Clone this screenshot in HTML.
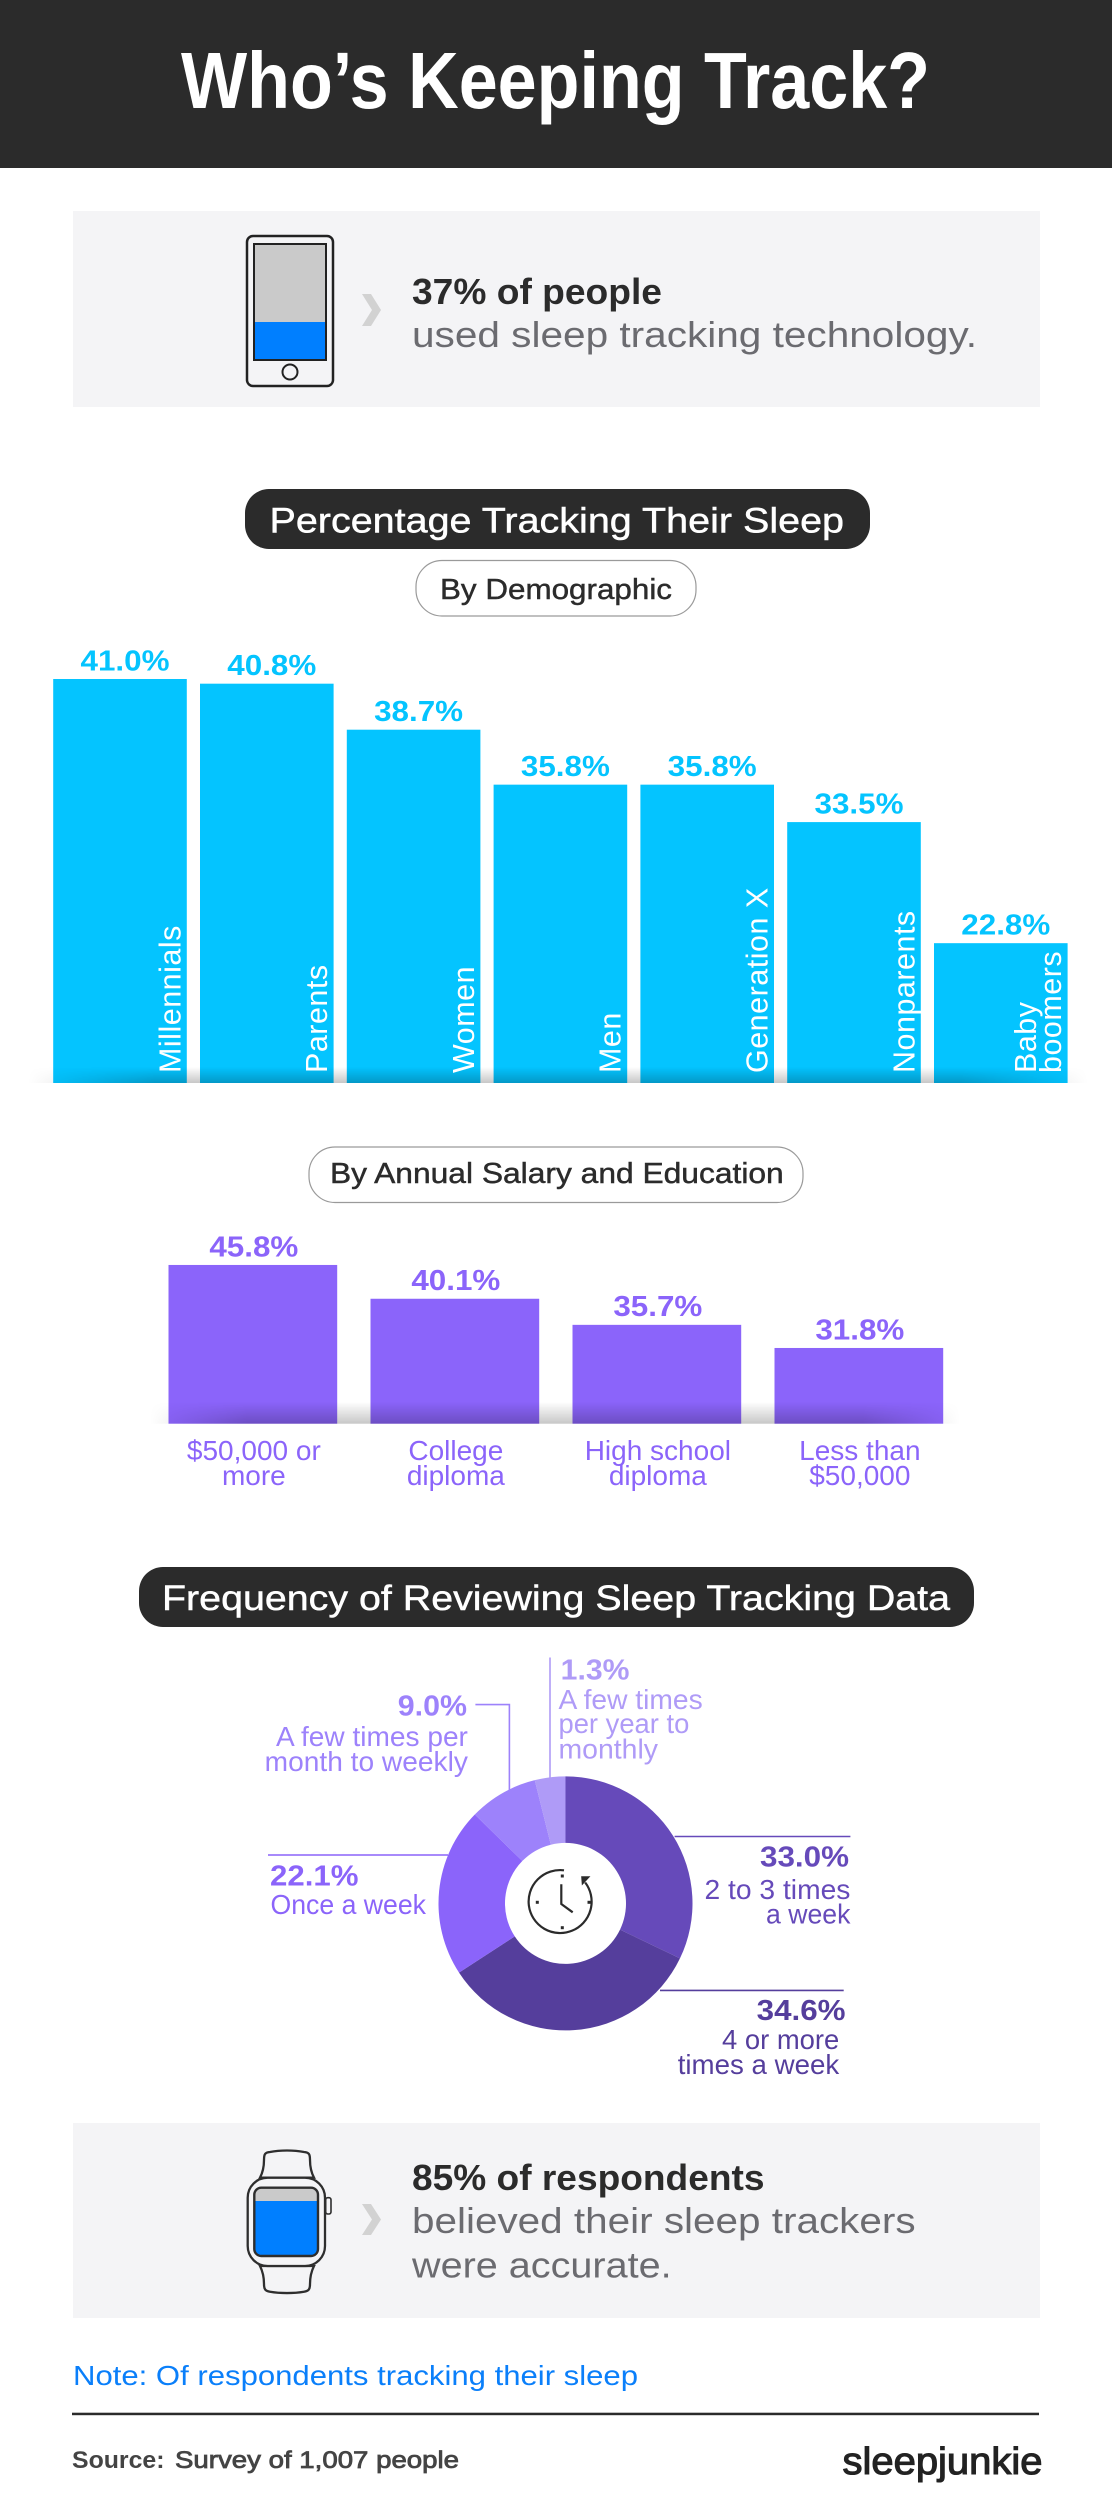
<!DOCTYPE html>
<html lang="en">
<head>
<meta charset="utf-8">
<title>Who's Keeping Track?</title>
<style>
html,body{margin:0;padding:0;background:#fff;}
svg{display:block;}
text{font-family:"Liberation Sans",Arial,sans-serif;}
.b{font-weight:700;}
.m{stroke-width:.45;paint-order:stroke;}
</style>
</head>
<body>
<svg id="page" xmlns="http://www.w3.org/2000/svg" width="1112" height="2514" viewBox="0 0 1112 2514">
<defs>
  <linearGradient id="vShade" x1="0" y1="0" x2="0" y2="1">
    <stop offset="0" stop-color="#000" stop-opacity="0"/>
    <stop offset="1" stop-color="#000" stop-opacity=".22"/>
  </linearGradient>
  <linearGradient id="hFade" x1="0" y1="0" x2="1" y2="0">
    <stop offset="0" stop-color="#fff" stop-opacity="0"/>
    <stop offset=".12" stop-color="#fff" stop-opacity="1"/>
    <stop offset=".88" stop-color="#fff" stop-opacity="1"/>
    <stop offset="1" stop-color="#fff" stop-opacity="0"/>
  </linearGradient>
  <mask id="demoFade" maskUnits="userSpaceOnUse" maskContentUnits="userSpaceOnUse" x="0" y="1040" width="1112" height="60">
    <rect x="28" y="1040" width="1060" height="60" fill="url(#hFade)"/>
  </mask>
  <mask id="salaryFade" maskUnits="userSpaceOnUse" maskContentUnits="userSpaceOnUse" x="0" y="1380" width="1112" height="60">
    <rect x="150" y="1380" width="810" height="60" fill="url(#hFade)"/>
  </mask>
  <clipPath id="watchScreen"><rect x="254.3" y="2187.7" width="63.7" height="68.3" rx="7"/></clipPath>
</defs>

<rect width="1112" height="2514" fill="#fff"/>
<rect width="1112" height="168" fill="#2b2b2b"/>
<text class="b" x="181" y="108" font-size="80" fill="#fff" textLength="749" lengthAdjust="spacingAndGlyphs">Who’s Keeping Track?</text>

<g>
  <rect x="73" y="211" width="967" height="196" fill="#f4f4f6"/>
  <g>
    <rect x="247" y="236" width="86" height="150" rx="6" fill="#f4f4f6" stroke="#222" stroke-width="2.5"/>
    <rect x="254" y="244" width="72" height="116" fill="#cacaca" stroke="#222" stroke-width="2"/>
    <rect x="255" y="322" width="70" height="37" fill="#007fff"/>
    <line x1="254" y1="360" x2="326" y2="360" stroke="#222" stroke-width="2"/>
    <circle cx="290" cy="372" r="7.5" fill="none" stroke="#222" stroke-width="2"/>
  </g>
  <polygon points="362,294 371,294 381,310 371,326 362,326 372,310" fill="#d2d2d2"/>
  <text class="b" x="412" y="304" font-size="36" fill="#2b2b2b" textLength="250" lengthAdjust="spacingAndGlyphs">37% of people</text>
  <text x="412" y="347" font-size="36" fill="#6b6b70" textLength="565" lengthAdjust="spacingAndGlyphs">used sleep tracking technology.</text>
</g>

<rect x="245" y="489" width="625" height="60" rx="24" fill="#2b2b2b"/>
<text class="m" stroke="#fff" x="269.5" y="532.5" font-size="35" fill="#fff" textLength="574.5" lengthAdjust="spacingAndGlyphs">Percentage Tracking Their Sleep</text>

<rect x="416" y="560.5" width="280" height="55.5" rx="26" fill="#fff" stroke="#9a9a9a" stroke-width="1.2"/>
<text class="m" stroke="#2b2b2b" x="440" y="599" font-size="29" fill="#2b2b2b" textLength="232" lengthAdjust="spacingAndGlyphs">By Demographic</text>

<g id="demoChart"></g>

<rect x="309" y="1147" width="494" height="55.5" rx="26" fill="#fff" stroke="#9a9a9a" stroke-width="1.2"/>
<text class="m" stroke="#2b2b2b" x="330" y="1183" font-size="29" fill="#2b2b2b" textLength="453.7" lengthAdjust="spacingAndGlyphs">By Annual Salary and Education</text>

<g id="salaryChart"></g>

<rect x="139" y="1567" width="835" height="60" rx="24" fill="#2b2b2b"/>
<text class="m" stroke="#fff" x="162" y="1610" font-size="35" fill="#fff" textLength="788" lengthAdjust="spacingAndGlyphs">Frequency of Reviewing Sleep Tracking Data</text>

<g id="donutChart"></g>

<g fill="none" stroke-width="1.6">
  <path d="M550 1657.5V1778" stroke="#af9bf7"/>
  <path d="M475.4 1704.6H509.4V1790" stroke="#9d82fb"/>
  <path d="M268 1855H448" stroke="#8b64fa"/>
  <path d="M674.6 1836.5H850.4" stroke="#664aba"/>
  <path d="M660 1990.4H843.7" stroke="#553e9c"/>
</g>

<g font-size="28">
  <text id="freq-val-4" class="b" x="560.7" y="1679.5" font-size="29" fill="#af9bf7" textLength="68.8" lengthAdjust="spacingAndGlyphs">1.3%</text>
  <text x="558.5" y="1708.8" fill="#af9bf7" textLength="144.2" lengthAdjust="spacingAndGlyphs">A few times</text>
  <text x="558.5" y="1733.2" fill="#af9bf7" textLength="130.8" lengthAdjust="spacingAndGlyphs">per year to</text>
  <text x="558.5" y="1758.7" fill="#af9bf7" textLength="99.5" lengthAdjust="spacingAndGlyphs">monthly</text>

  <text id="freq-val-3" class="b" x="397.8" y="1715.6" font-size="29" fill="#9d82fb" textLength="69.2" lengthAdjust="spacingAndGlyphs">9.0%</text>
  <text x="276" y="1746" fill="#9d82fb" textLength="191.9" lengthAdjust="spacingAndGlyphs">A few times per</text>
  <text x="264.7" y="1771" fill="#9d82fb" textLength="203.2" lengthAdjust="spacingAndGlyphs">month to weekly</text>

  <text id="freq-val-2" class="b" x="270" y="1885.4" font-size="29" fill="#8b64fa" textLength="88.5" lengthAdjust="spacingAndGlyphs">22.1%</text>
  <text x="270.5" y="1914" fill="#8b64fa" textLength="155.5" lengthAdjust="spacingAndGlyphs">Once a week</text>

  <text id="freq-val-0" class="b" x="760" y="1866.5" font-size="29" fill="#664aba" textLength="89" lengthAdjust="spacingAndGlyphs">33.0%</text>
  <text x="704.5" y="1898.8" fill="#664aba" textLength="145.9" lengthAdjust="spacingAndGlyphs">2 to 3 times</text>
  <text x="766" y="1923.6" fill="#664aba" textLength="84.4" lengthAdjust="spacingAndGlyphs">a week</text>

  <text id="freq-val-1" class="b" x="756.7" y="2020" font-size="29" fill="#553e9c" textLength="88.8" lengthAdjust="spacingAndGlyphs">34.6%</text>
  <text x="722" y="2049" fill="#553e9c" textLength="117.3" lengthAdjust="spacingAndGlyphs">4 or more</text>
  <text x="677.7" y="2074" fill="#553e9c" textLength="161.6" lengthAdjust="spacingAndGlyphs">times a week</text>
</g>

<g fill="none" stroke="#2b2b2b" stroke-width="2.2">
  <path d="M564 1870.3 A31.5 31.5 0 1 0 585.2 1882.5"/>
  <path d="M581.7 1876.7 L589.3 1876.7 L582.3 1884.3 Z" fill="#2b2b2b" stroke-width="1"/>
  <path d="M561.3 1884.3V1904L572.7 1912.3"/>
  <g fill="#2b2b2b" stroke="none">
    <rect x="560.8" y="1874.5" width="3" height="3"/>
    <rect x="587.5" y="1900.8" width="3" height="3"/>
    <rect x="560.8" y="1926.2" width="3" height="3"/>
    <rect x="535.8" y="1900.8" width="3" height="3"/>
  </g>
</g>

<g>
  <rect x="73" y="2123" width="967" height="195" fill="#f4f4f6"/>
  <g stroke="#2e2e2e" stroke-width="2.3">
    <path d="M260 2177.7C263 2172 264 2166 264 2160C264 2154 265 2152.5 270 2152C280 2150 294 2150 304 2152C309 2152.5 310 2154 310 2160C310 2166 311 2172 314 2177.7Z" fill="#f4f4f6"/>
    <path d="M260 2266C263 2272 264 2278 264 2284C264 2289 265 2291 270 2291.8C280 2293.5 294 2293.5 304 2291.8C309 2291 310 2289 310 2284C310 2278 311 2272 314 2266Z" fill="#f4f4f6"/>
    <rect x="247.7" y="2177.7" width="77.3" height="88.3" rx="20" fill="#f4f4f6"/>
    <rect x="325.7" y="2197.7" width="5.3" height="16.3" rx="2" fill="#f4f4f6" stroke-width="1.6"/>
    <g clip-path="url(#watchScreen)" stroke="none">
      <rect x="254" y="2187" width="65" height="15" fill="#cacaca"/>
      <rect x="254" y="2201" width="65" height="56" fill="#007fff"/>
    </g>
    <rect x="254.3" y="2187.7" width="63.7" height="68.3" rx="7" fill="none" stroke-width="2.4"/>
  </g>
  <polygon points="362,2204 371,2204 381,2219.5 371,2235 362,2235 372,2219.5" fill="#d2d2d2"/>
  <text class="b" x="412" y="2190" font-size="36" fill="#2b2b2b" textLength="352.5" lengthAdjust="spacingAndGlyphs">85% of respondents</text>
  <text x="412" y="2233" font-size="36" fill="#6b6b70" textLength="503.6" lengthAdjust="spacingAndGlyphs">believed their sleep trackers</text>
  <text x="412" y="2277.5" font-size="36" fill="#6b6b70" textLength="259.6" lengthAdjust="spacingAndGlyphs">were accurate.</text>
</g>

<text x="73" y="2385" font-size="28" fill="#0a7ffa" textLength="565" lengthAdjust="spacingAndGlyphs">Note: Of respondents tracking their sleep</text>
<rect x="72" y="2412.7" width="967" height="2.5" fill="#2b2b2b"/>
<text class="b" x="72" y="2468" font-size="24" fill="#444" textLength="92.5" lengthAdjust="spacingAndGlyphs">Source:</text>
<text class="m" stroke="#444" x="175" y="2468" font-size="24" fill="#444" textLength="284" lengthAdjust="spacingAndGlyphs" style="stroke-width:.8">Survey of 1,007 people</text>
<text class="m" stroke="#222" x="842.5" y="2474" font-size="38" fill="#222" textLength="200" lengthAdjust="spacingAndGlyphs" style="stroke-width:1.1">sleepjunkie</text>
</svg>

<script>
// ---- chart data ----
const demoCategories = ["Millennials", "Parents", "Women", "Men", "Generation X", "Nonparents", "Baby\nboomers"];
const demoValues = [41.0, 40.8, 38.7, 35.8, 35.8, 33.5, 22.8];
const salaryCategories = ["$50,000 or\nmore", "College\ndiploma", "High school\ndiploma", "Less than\n$50,000"];
const salaryValues = [45.8, 40.1, 35.7, 31.8];
const frequencyCategories = ["2 to 3 times a week", "4 or more times a week", "Once a week", "A few times per month to weekly", "A few times per year to monthly"];
const frequencyValues = [33.0, 34.6, 22.1, 9.0, 1.3];

// ---- axis functions (the artwork's demographic bars follow a curved, not linear, scale) ----
const demoBase = 1083;
function demoY(v) { return demoBase - 404 * Math.exp(0.0583 * (v - 41)); }
function demoX(i) { return 53.2 + i * 146.8; }
const demoBarWidth = 133.6;

const salaryBase = 1423.7;
function salaryY(v) { return salaryBase - 5.93 * (v - 19.03); }
function salaryX(i) { return 168.5 + i * 202; }
const salaryBarWidth = 168.7;

const donutCx = 565.5, donutCy = 1903.4, donutOuter = 127, donutInner = 60.5;
const minSlicePercent = 4;   // the artwork keeps tiny slices visible
const sliceColors = ["#664aba", "#553e9c", "#8b64fa", "#9d82fb", "#af9bf7"];

const NS = "http://www.w3.org/2000/svg";
function make(parent, tag, attrs, txt) {
  const el = document.createElementNS(NS, tag);
  for (const k in attrs) el.setAttribute(k, attrs[k]);
  if (txt !== undefined) el.textContent = txt;
  parent.appendChild(el);
  return el;
}
function fmt(v) { return v.toFixed(1) + "%"; }

// ---- demographic bars ----
const demoG = document.getElementById("demoChart");
demoValues.forEach(function (v, i) {
  const top = demoY(v);
  const bar = make(demoG, "rect", { x: demoX(i), y: top, width: demoBarWidth, height: demoBase - top, fill: "#04c4ff" });
  
  
  const val = make(demoG, "text", { x: demoX(i) + demoBarWidth / 2 + 5, y: top - 8.5, "font-size": 29, "font-weight": 700, fill: "#04c4ff", "text-anchor": "middle", textLength: 89, lengthAdjust: "spacingAndGlyphs" }, fmt(v));
  
  
});
const demoShade = make(demoG, "rect", { x: 28, y: 1067, width: 1060, height: 16, fill: "url(#vShade)", mask: "url(#demoFade)" });


demoCategories.forEach(function (name, i) {
  const lines = name.split("\n");
  lines.forEach(function (line, j) {
    const bx = demoX(i) + demoBarWidth - 6.5 - (lines.length - 1 - j) * 25;
    const lab = make(demoG, "text", { transform: "translate(" + bx + " 1073) rotate(-90)", "font-size": 30.5, "letter-spacing": 0.5, fill: "#fff" }, line);
    
    
  });
});

// ---- salary bars ----
const salaryG = document.getElementById("salaryChart");
salaryValues.forEach(function (v, i) {
  const top = salaryY(v);
  const bar = make(salaryG, "rect", { x: salaryX(i), y: top, width: salaryBarWidth, height: salaryBase - top, fill: "#8b64fa" });
  
  
  const val = make(salaryG, "text", { x: salaryX(i) + salaryBarWidth / 2 + 1, y: top - 8.7, "font-size": 29, "font-weight": 700, fill: "#8b64fa", "text-anchor": "middle", textLength: 89, lengthAdjust: "spacingAndGlyphs" }, fmt(v));
  
  
});
const salaryShade = make(salaryG, "rect", { x: 150, y: 1402, width: 810, height: 21.7, fill: "url(#vShade)", mask: "url(#salaryFade)" });


salaryCategories.forEach(function (name, i) {
  name.split("\n").forEach(function (line, j) {
    const lab = make(salaryG, "text", { x: salaryX(i) + salaryBarWidth / 2 + 1, y: 1460 + j * 24.8, "font-size": 28, fill: "#8b64fa", "text-anchor": "middle" }, line);
    
    
  });
});

// ---- donut ----
const donutG = document.getElementById("donutChart");
function sweepShares() {
  const floored = frequencyValues.map(function (v) { return Math.max(v, minSlicePercent); });
  const total = floored.reduce(function (a, b) { return a + b; }, 0);
  return floored.map(function (v) { return v / total; });
}
function polar(r, a) { return [donutCx + r * Math.sin(a), donutCy - r * Math.cos(a)]; }
let cursor = 0;
sweepShares().forEach(function (share, i) {
  const a0 = cursor * 2 * Math.PI;
  const a1 = (cursor + share) * 2 * Math.PI;
  cursor += share;
  const large = share > 0.5 ? 1 : 0;
  const p0 = polar(donutOuter, a0), p1 = polar(donutOuter, a1), p2 = polar(donutInner, a1), p3 = polar(donutInner, a0);
  const d = "M" + p0 + "A" + donutOuter + " " + donutOuter + " 0 " + large + " 1 " + p1 + "L" + p2 + "A" + donutInner + " " + donutInner + " 0 " + large + " 0 " + p3 + "Z";
  const slice = make(donutG, "path", { d: d, fill: sliceColors[i] });
  
  
  make(slice, "title", {}, frequencyCategories[i] + ": " + fmt(frequencyValues[i]));
  const printed = document.getElementById("freq-val-" + i);
  if (printed) printed.textContent = fmt(frequencyValues[i]);
});
</script>
</body>
</html>
